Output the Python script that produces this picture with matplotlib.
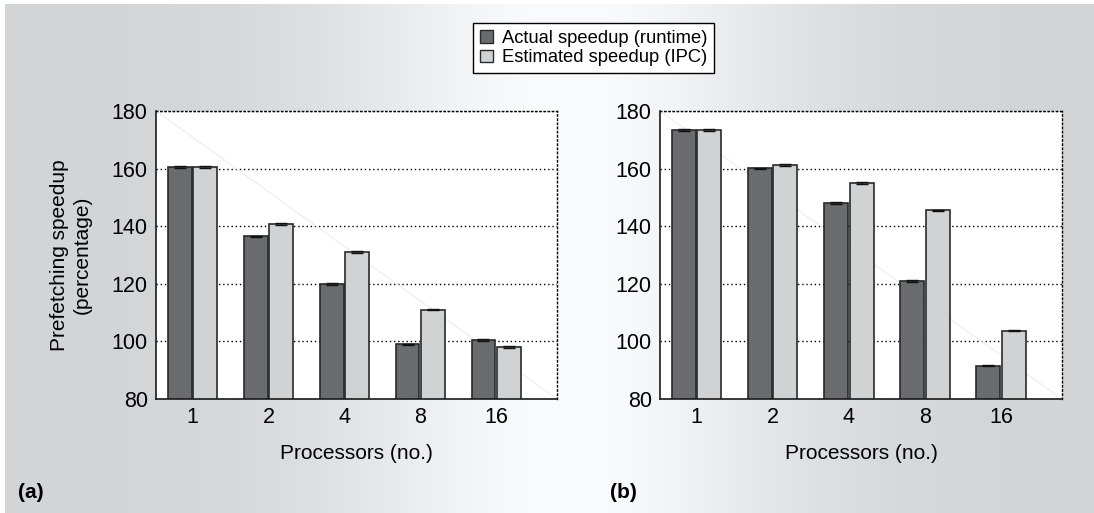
import numpy as np
import matplotlib
matplotlib.use("Agg")
import matplotlib.pyplot as plt
from matplotlib.patches import Patch

plt.rcParams['font.family'] = ['Liberation Sans', 'DejaVu Sans']

processors = ["1", "2", "4", "8", "16"]
actual_a = [160.5, 136.5, 120.0, 99.0, 100.5]
estimated_a = [160.5, 140.8, 131.1, 111.0, 98.0]
actual_b = [173.4, 160.1, 148.0, 121.0, 91.6]
estimated_b = [173.4, 161.2, 155.0, 145.5, 103.7]
err_a = [0.25, 0.25, 0.25, 0.25, 0.25]
err_b = [0.25, 0.25, 0.25, 0.25, 0.25]

dark = '#6a6b6f'
light = '#d1d2d4'

fig = plt.figure(figsize=(10.94, 5.13), dpi=100)

# gradient background panel
bg = fig.add_axes([5 / 1094, 0.0, 1 - 5 / 1094, 1 - 4 / 513], zorder=-10)
xs = np.linspace(0, 1094, 600)
vals = 211 + 39 * np.exp(-((xs - 565) / 230) ** 2)
rgb = np.stack([vals, vals + 1, vals + 3], axis=-1) / 255.0
rgb = np.clip(rgb, 0, 1)[None, :, :]
bg.imshow(rgb, aspect='auto', extent=[0, 1, 0, 1])
bg.axis('off')


def draw_panel(ax, actual, estimated, err):
    x = np.arange(len(processors))
    w = 0.315
    off = 0.168
    ax.set_facecolor('white')
    ax.plot([0, 1], [1, 0], transform=ax.transAxes, color='#ededed', lw=0.8, zorder=1)
    ax.bar(x - off, actual, w, color=dark, edgecolor='#2a2a2a', linewidth=1.2, zorder=2)
    ax.bar(x + off, estimated, w, color=light, edgecolor='#2a2a2a', linewidth=1.2, zorder=2)
    ax.errorbar(x - off, actual, yerr=err, fmt='none', ecolor='#111111', elinewidth=0.8, capsize=4, capthick=1.0, zorder=3)
    ax.errorbar(x + off, estimated, yerr=err, fmt='none', ecolor='#111111', elinewidth=0.8, capsize=4, capthick=1.0, zorder=3)
    ax.set_ylim(80, 180)
    ax.set_xlim(-0.48, 4.8)
    ax.set_yticks([80, 100, 120, 140, 160, 180])
    ax.set_xticks(x)
    ax.set_xticklabels(processors)
    ax.tick_params(length=0, labelsize=15.5, pad=6)
    ax.grid(True, axis='y', color='black', linestyle=(0, (1, 2)), linewidth=1.0)
    ax.set_axisbelow(True)
    for s in ['top', 'right']:
        ax.spines[s].set_linestyle((0, (1, 2)))
        ax.spines[s].set_linewidth(1.0)
    for s in ['left', 'bottom']:
        ax.spines[s].set_linewidth(1.2)
        ax.spines[s].set_color('#1a1a1a')
    ax.set_xlabel("Processors (no.)", fontsize=15, labelpad=11)


ax1 = fig.add_axes([156 / 1094, 1 - 399 / 513, 401 / 1094, 288 / 513])
ax2 = fig.add_axes([660 / 1094, 1 - 399 / 513, 402 / 1094, 288 / 513])
draw_panel(ax1, actual_a, estimated_a, err_a)
draw_panel(ax2, actual_b, estimated_b, err_b)
ax1.set_ylabel("Prefetching speedup\n(percentage)", fontsize=15, labelpad=14, linespacing=1.25)

fig.text(18 / 1094, 1 - 493 / 513, "(a)", fontsize=15, fontweight='bold', va='center')
fig.text(610 / 1094, 1 - 493 / 513, "(b)", fontsize=15, fontweight='bold', va='center')

handles = [Patch(facecolor=dark, edgecolor='#2a2a2a', linewidth=1.0, label="Actual speedup (runtime)"),
           Patch(facecolor=light, edgecolor='#2a2a2a', linewidth=1.0, label="Estimated speedup (IPC)")]
leg = fig.legend(handles=handles, loc='center', bbox_to_anchor=(593.5 / 1094, 1 - 48 / 513),
                 fontsize=13.2, frameon=True, fancybox=False, handlelength=0.7, handleheight=0.7,
                 handletextpad=0.5, labelspacing=0.15, borderpad=0.35, borderaxespad=0)
leg.get_frame().set_edgecolor('black')
leg.get_frame().set_linewidth(1.0)
leg.get_frame().set_facecolor('white')
leg.get_frame().set_alpha(1)

fig.savefig("out.png", dpi=100)
